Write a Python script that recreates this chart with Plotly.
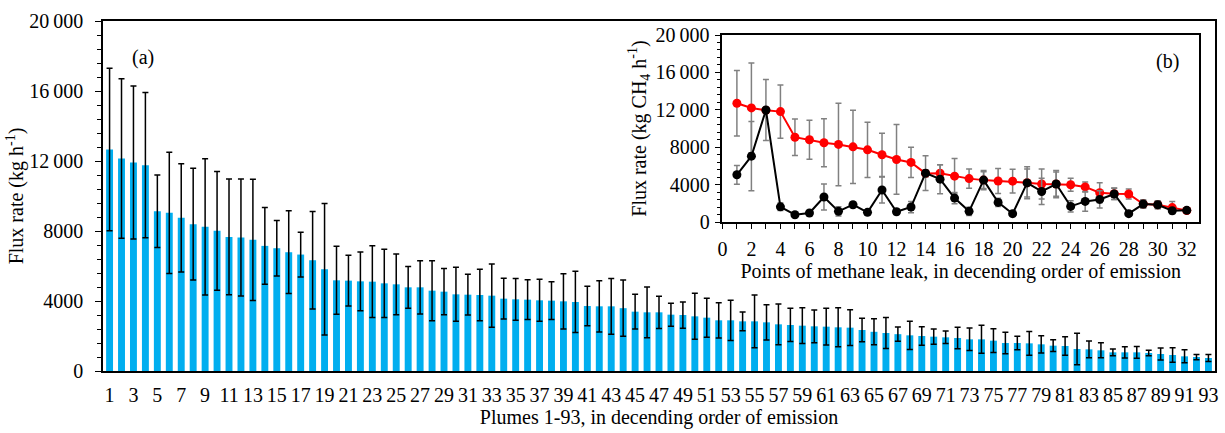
import plotly.graph_objects as go

# ---- Panel (a): plumes ----
plume_ids = list(range(1, 94))
plume_flux = [12660, 12145, 11917, 11764, 9133, 9037, 8751, 8389, 8237, 8008,
              7664, 7626, 7493, 7150, 7016, 6787, 6654, 6330, 5815, 5182,
              5163, 5124, 5105, 5010, 4953, 4782, 4782, 4591, 4534, 4381,
              4362, 4343, 4305, 4134, 4096, 4077, 4039, 4020, 3981, 3943,
              3715, 3696, 3696, 3590, 3391, 3353, 3353, 3219, 3200, 3124,
              3048, 2896, 2896, 2838, 2838, 2781, 2667, 2629, 2591, 2553,
              2534, 2496, 2477, 2343, 2240, 2172, 2105, 2038, 2000, 1962,
              1924, 1886, 1810, 1810, 1734, 1600, 1600, 1581, 1524, 1448,
              1429, 1257, 1238, 1181, 1067, 1067, 1067, 1029, 972, 914,
              838, 800, 743]
plume_err = [4640, 4555, 4375, 4150, 2070, 3470, 3090, 3190, 3890, 3390,
             3310, 3340, 3470, 2190, 1590, 2365, 1280, 2790, 3755, 1945,
             1450, 1675, 2050, 1950, 1735, 1190, 1525, 1715, 1325, 1545,
             1160, 1465, 1810, 1160, 1190, 1135, 1200, 1075, 1580, 1750,
             1135, 1465, 1590, 1605, 990, 1450, 925, 655, 750, 1315,
             1115, 1010, 1150, 535, 1505, 1010, 1160, 950, 1020, 935,
             1055, 1115, 1020, 675, 745, 880, 410, 810, 525, 440,
             355, 610, 645, 800, 675, 610, 390, 675, 495, 335,
             535, 895, 475, 430, 190, 325, 335, 160, 345, 420,
             370, 150, 200]

# ---- Panel (b): points of methane leak ----
point_ids = list(range(1, 33))
red_flux = [12700, 12200, 11950, 11810, 9070, 8800, 8480, 8300, 8040, 7720,
            7190, 6690, 6370, 5200, 5210, 4900, 4640, 4480, 4390, 4370,
            4200, 4060, 4060, 3980, 3750, 3130, 3020, 2990, 1920, 1850,
            1540, 1230]
red_err = [3490, 4800, 300, 2845, 1955, 2080, 2560, 4410, 3910, 2950,
           2310, 3730, 1620, 400, 900, 1900, 1020, 1030, 1330, 1280,
           1700, 1600, 1460, 700, 530, 1070, 620, 530, 450, 420,
           640, 150]
black_flux = [5050, 7040, 11980, 1620, 780, 960, 2670, 1140, 1850, 1030,
              3420, 1100, 1600, 5227, 4583, 2557, 1138, 4480, 2096, 889,
              4180, 3268, 4060, 1671, 2203, 2416, 3000, 889, 1920, 1849,
              1209, 1245]
black_err = [1000, 3700, 3270, 400, 250, 250, 1390, 500, 300, 250,
             1390, 300, 600, 1865, 1550, 600, 450, 900, 450, 300,
             1500, 1400, 1300, 600, 1060, 920, 600, 250, 400, 400,
             300, 150]

y_tickvals = [0, 4000, 8000, 12000, 16000, 20000]
y_ticktext = ["0", "4000", "8000", "12\u2009000", "16\u2009000", "20\u2009000"]
main_xtickvals = list(range(1, 94, 2))
inset_xtickvals = list(range(0, 33, 2))

FONT = "Liberation Serif, Times New Roman, serif"
BAR_COLOR = "#00AEEF"

fig = go.Figure()

fig.add_trace(go.Bar(
    x=plume_ids, y=plume_flux, width=0.58,
    marker=dict(color=BAR_COLOR, line=dict(width=0)),
    error_y=dict(type="data", array=plume_err, visible=True,
                 color="black", thickness=1.5, width=3),
    xaxis="x", yaxis="y", showlegend=False,
))

fig.add_trace(go.Scatter(
    x=point_ids, y=red_flux, mode="lines+markers",
    line=dict(color="#FF0000", width=2),
    marker=dict(color="#FF0000", size=9),
    error_y=dict(type="data", array=red_err, visible=True,
                 color="#808080", thickness=1.5, width=3),
    xaxis="x2", yaxis="y2", showlegend=False,
))
fig.add_trace(go.Scatter(
    x=point_ids, y=black_flux, mode="lines+markers",
    line=dict(color="black", width=2),
    marker=dict(color="black", size=9),
    error_y=dict(type="data", array=black_err, visible=True,
                 color="#808080", thickness=1.5, width=3),
    xaxis="x2", yaxis="y2", showlegend=False,
))

axis_font = dict(family=FONT, size=20, color="black")

fig.update_layout(
    width=1225, height=433,
    margin=dict(l=103, r=7, t=21, b=62),
    paper_bgcolor="white", plot_bgcolor="white",
    font=axis_font,
    xaxis=dict(
        domain=[0, 1], range=[0.45, 93.55],
        tickmode="array", tickvals=main_xtickvals,
        ticks="", ticklabelstandoff=5,
        showline=True, linecolor="black", linewidth=1.5,
        mirror=True, showgrid=False, zeroline=False,
        tickfont=axis_font,
        title=dict(text="Plumes 1-93, in decending order of emission",
                   font=axis_font, standoff=0),
    ),
    yaxis=dict(
        domain=[0, 1], range=[0, 20000],
        tickmode="array", tickvals=y_tickvals, ticktext=y_ticktext,
        ticks="outside", ticklen=6, tickcolor="black", tickwidth=1,
        ticklabelstandoff=8,
        minor=dict(dtick=800, tick0=0, ticks="outside", ticklen=4,
                   tickcolor="black", tickwidth=1, showgrid=False),
        showline=True, linecolor="black", linewidth=1.5, mirror=True,
        showgrid=False, zeroline=False, tickfont=axis_font,
        title=dict(text="Flux rate (kg h<sup>-1</sup>)", font=axis_font,
                   standoff=0),
    ),
    xaxis2=dict(
        domain=[0.557, 0.9857], range=[0, 32.85], anchor="y2",
        tickmode="array", tickvals=inset_xtickvals,
        ticks="outside", ticklen=5, tickcolor="black", tickwidth=1,
        ticklabelstandoff=3,
        minor=dict(dtick=1, tick0=0, ticks="outside", ticklen=5,
                   tickcolor="black", tickwidth=1, showgrid=False),
        showline=True, linecolor="black", linewidth=1.5, mirror=True,
        showgrid=False, zeroline=False, tickfont=axis_font,
        title=dict(text="Points of methane leak, in decending order of emission",
                   font=axis_font, standoff=0),
    ),
    yaxis2=dict(
        domain=[0.4257, 0.96], range=[0, 20000], anchor="x2",
        tickmode="array", tickvals=y_tickvals, ticktext=y_ticktext,
        ticks="outside", ticklen=6, tickcolor="black", tickwidth=1,
        ticklabelstandoff=1,
        minor=dict(dtick=800, tick0=0, ticks="outside", ticklen=4,
                   tickcolor="black", tickwidth=1, showgrid=False),
        showline=True, linecolor="black", linewidth=1.5, mirror=True,
        showgrid=False, zeroline=False, tickfont=axis_font,
        title=dict(text="Flux rate (kg CH<sub>4</sub> h<sup>-1</sup>)",
                   font=axis_font, standoff=4),
    ),
    annotations=[
        dict(text="(a)", xref="paper", yref="paper", x=0.036, y=0.897,
             xanchor="center", yanchor="middle",
             showarrow=False, font=axis_font),
        dict(text="(b)", xref="paper", yref="paper", x=0.957, y=0.883,
             xanchor="center", yanchor="middle",
             showarrow=False, font=axis_font),
    ],
)

fig.write_html("out.html")
